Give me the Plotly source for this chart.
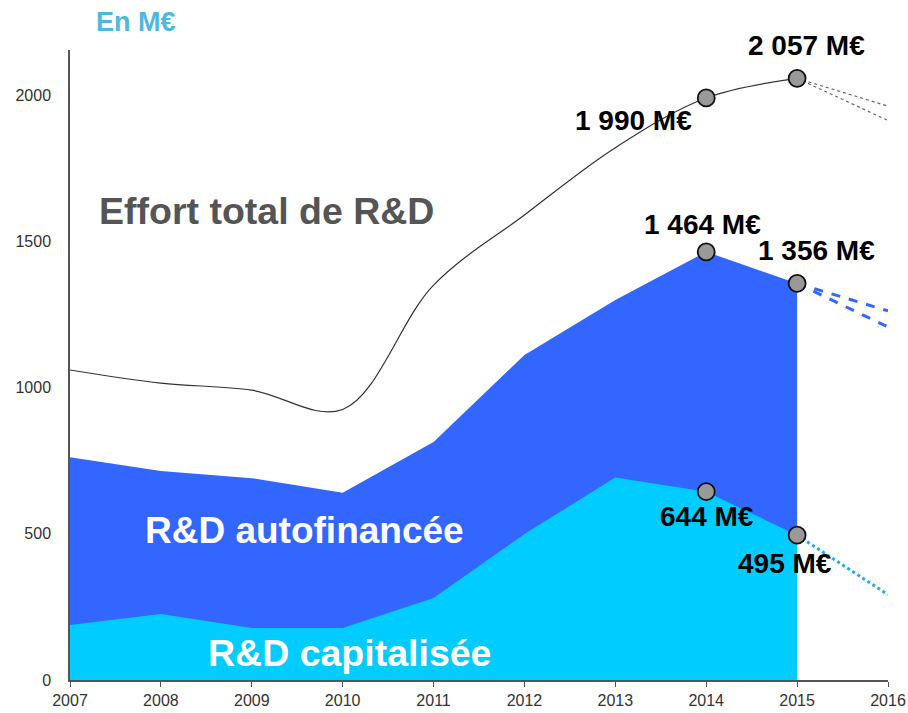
import plotly.graph_objects as go

years = [2007, 2008, 2009, 2010, 2011, 2012, 2013, 2014, 2015]
effort_total = [1060, 1015, 991, 925, 1350, 1590, 1820, 1990, 2057]
rd_total_area = [762, 715, 690, 640, 814, 1111, 1299, 1464, 1356]
rd_capitalisee = [188, 226, 178, 178, 280, 499, 692, 644, 495]

proj_years = [2015, 2016]
proj_total_hi = [2057, 1962]
proj_total_lo = [2057, 1913]
proj_auto_hi = [1356, 1262]
proj_auto_lo = [1356, 1207]
proj_cap = [495, 292]

marker_years = [2014, 2015]
marker_total = [1990, 2057]
marker_auto = [1464, 1356]
marker_cap = [644, 495]

BLUE = "#3366FF"
CYAN = "#00CCFF"
FONT = "Liberation Sans, Arial, sans-serif"

fig = go.Figure()
fig.add_trace(go.Scatter(x=years, y=rd_total_area, mode="lines", fill="tozeroy",
                         fillcolor=BLUE, line=dict(color=BLUE, width=0), hoverinfo="skip"))
fig.add_trace(go.Scatter(x=years, y=rd_capitalisee, mode="lines", fill="tozeroy",
                         fillcolor=CYAN, line=dict(color=CYAN, width=0), hoverinfo="skip"))
fig.add_trace(go.Scatter(x=years, y=effort_total, mode="lines",
                         line=dict(color="#333333", width=1.2, shape="spline", smoothing=1.0)))
for ys in (proj_total_hi, proj_total_lo):
    fig.add_trace(go.Scatter(x=proj_years, y=ys, mode="lines",
                             line=dict(color="#666666", width=1.2, dash="dot")))
for ys in (proj_auto_hi, proj_auto_lo):
    fig.add_trace(go.Scatter(x=proj_years, y=ys, mode="lines",
                             line=dict(color=BLUE, width=3, dash="dash")))
fig.add_trace(go.Scatter(x=proj_years, y=proj_cap, mode="lines",
                         line=dict(color="#22AAEE", width=3, dash="dot")))
for ys in (marker_total, marker_auto, marker_cap):
    fig.add_trace(go.Scatter(x=marker_years, y=ys, mode="markers",
                             marker=dict(size=17, color="#999999",
                                         line=dict(color="#111111", width=1.8))))

ann_font = dict(family=FONT, size=28, color="#000000")
# (x, y, text, xanchor, xshift px, downward shift px)
anns = [
    (2014, 1990, "1 990 M€", "right", -12, 23),
    (2015, 2057, "2 057 M€", "center", 9, -33),
    (2014, 1464, "1 464 M€", "center", -4, -27),
    (2015, 1356, "1 356 M€", "center", 19, -33),
    (2014, 644, "644 M€", "center", 1, 25),
    (2015, 495, "495 M€", "center", -12, 28),
]
for x, y, t, xa, dx, dy in anns:
    fig.add_annotation(x=x, y=y, text="<b>%s</b>" % t, showarrow=False, xanchor=xa,
                       yanchor="middle", xshift=dx, yshift=-dy, font=ann_font)

W, H = 908, 713
L, R, T, B = 70, 20, 50, 33
pw, ph = W - L - R, H - T - B
big = [
    ("Effort total de R&D", 97, 211, "left", "#555555", 37.5),
    ("R&D autofinancée", 304, 530, "center", "#FFFFFF", 37),
    ("R&D capitalisée", 349, 653, "center", "#FFFFFF", 37.5),
]
for t, px, py, xa, col, sz in big:
    fig.add_annotation(x=(px - L) / pw, y=1 - (py - T) / ph, xref="paper", yref="paper",
                       text="<b>%s</b>" % t.replace("&", "&amp;"), showarrow=False,
                       xanchor=xa, yanchor="middle",
                       font=dict(family=FONT, size=sz, color=col))
fig.add_annotation(x=(94 - L) / pw, y=1 - (22 - T) / ph, xref="paper", yref="paper",
                   text="<b>En M€</b>", showarrow=False, xanchor="left", yanchor="middle",
                   font=dict(family=FONT, size=27, color="#4DB8E0"))

fig.update_layout(
    width=W, height=H, margin=dict(l=L, r=R, t=T, b=B, autoexpand=False),
    paper_bgcolor="white", plot_bgcolor="white", showlegend=False,
    xaxis=dict(range=[2007, 2016], tickvals=list(range(2007, 2017)), showgrid=False,
               zeroline=False, showline=True, linecolor="#555555", linewidth=1.5,
               ticks="outside", ticklen=5, tickcolor="#555555", automargin=False,
               tickfont=dict(family=FONT, size=16, color="#333333")),
    yaxis=dict(range=[0, 2154], tickvals=[0, 500, 1000, 1500, 2000], showgrid=False,
               zeroline=False, showline=True, linecolor="#555555", linewidth=1.5,
               ticks="", ticklabelstandoff=14, automargin=False,
               tickfont=dict(family=FONT, size=16, color="#333333")),
)
fig.write_html("out.html", config={"displayModeBar": False},
               post_script="document.body.style.margin='0';document.body.style.overflow='hidden';")
